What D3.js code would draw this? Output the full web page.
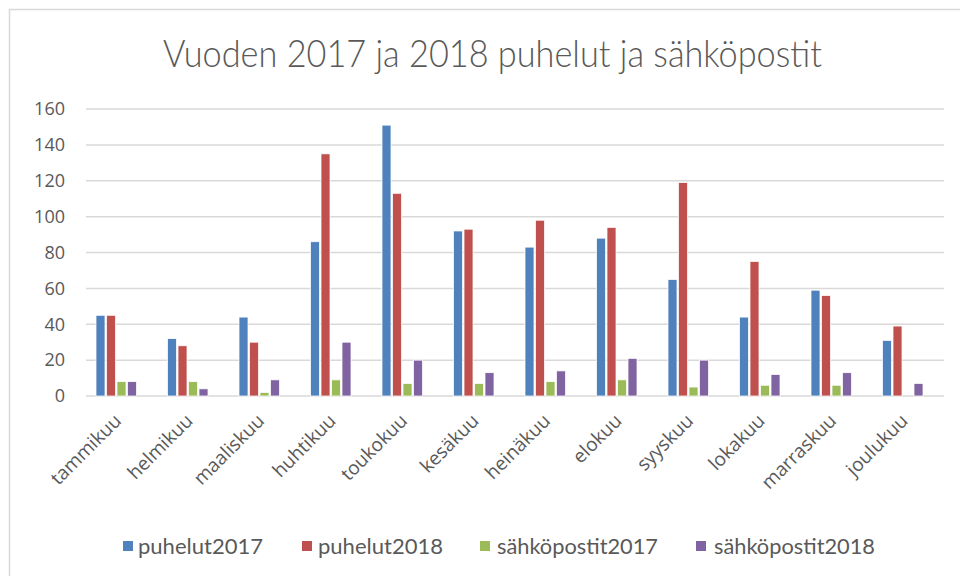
<!DOCTYPE html>
<html><head><meta charset="utf-8">
<script src="https://cdn.jsdelivr.net/npm/d3@7"></script>
<style>body{margin:0;background:#fff}svg{display:block}</style>
</head><body>
<svg id="c" width="960" height="576"></svg>
<script>
const months = ["tammikuu","helmikuu","maaliskuu","huhtikuu","toukokuu","kesäkuu","heinäkuu","elokuu","syyskuu","lokakuu","marraskuu","joulukuu"];
const seriesNames = ["puhelut2017","puhelut2018","sähköpostit2017","sähköpostit2018"];
const puhelut2017 = [45,32,44,86,151,92,83,88,65,44,59,31];
const puhelut2018 = [45,28,30,135,113,93,98,94,119,75,56,39];
const sahkopostit2017 = [8,8,2,9,7,7,8,9,5,6,6,0];
const sahkopostit2018 = [8,4,9,30,20,13,14,21,20,12,13,7];
const yTicks = [0,20,40,60,80,100,120,140,160];
const colors = ["#4f81bd","#c0504d","#9bbb59","#8064a2"];
const title = "Vuoden 2017 ja 2018 puhelut ja sähköpostit";

const seriesVals = [puhelut2017,puhelut2018,sahkopostit2017,sahkopostit2018];
const svg = d3.select("#c");
const thin = "Lato,'Open Sans',sans-serif";
const lab = "'Open Sans',sans-serif";

svg.append("rect").attr("x",9.5).attr("y",9.5).attr("width",980).attr("height",620)
  .attr("fill","#fff").attr("stroke","#d9d9d9").attr("stroke-width",1.5);

const gridL = 86, gridR = 944;
const x = d3.scaleBand().domain(months).range([80.75, 938.75]).padding(0);
const xs = d3.scaleBand().domain(seriesNames).range([0, 42]).padding(0);
const y = d3.scaleLinear().domain([0,160]).range([396,109]);

// gridlines
svg.append("g").selectAll("line").data(yTicks).join("line")
  .attr("x1",gridL).attr("x2",gridR)
  .attr("y1",d=>y(d)).attr("y2",d=>y(d))
  .attr("stroke","#d9d9d9").attr("stroke-width",1.5);

// y axis labels
const yAxis = d3.axisLeft(y).tickValues(yTicks).tickSize(0).tickPadding(0);
const ya = svg.append("g").attr("transform","translate(65,0)").call(yAxis);
ya.select(".domain").remove();
ya.selectAll("text").attr("font-family",lab).attr("font-size",18).attr("fill","#595959");

// bars
const groups = svg.append("g").selectAll("g").data(seriesNames).join("g")
  .attr("fill",(d,i)=>colors[i]);
groups.selectAll("rect").data((s,i)=>seriesVals[i].map((v,j)=>({s,m:months[j],v})))
  .join("rect")
  .attr("x",d=>x(d.m) + (x.bandwidth()-42)/2 + xs(d.s) + 0.5)
  .attr("width",xs.bandwidth()-1.5)
  .attr("y",d=>y(d.v))
  .attr("height",d=>y(0)-y(d.v))
  .attr("stroke","#fff").attr("stroke-width",0.75);

// x labels
const xa = svg.append("g");
xa.selectAll("text").data(months).join("text")
  .attr("transform",d=>`translate(${x(d)+x.bandwidth()/2+6},${422}) rotate(-45)`)
  .attr("text-anchor","end")
  .attr("font-family",lab).attr("font-size",19).attr("fill","#595959")
  .text(d=>d);

// title
svg.append("text").attr("x",163).attr("y",67)
  .attr("font-family",thin).attr("font-weight",300).attr("font-size",38).attr("fill","#595959")
  .attr("textLength",659).attr("lengthAdjust","spacingAndGlyphs").text(title);

// legend
const legX = [123,302,480,696];
const legT = [138,318,497,714];
const legW = [125,125,161,161];
const leg = svg.append("g").selectAll("g").data(seriesNames).join("g");
leg.append("rect").attr("x",(d,i)=>legX[i]).attr("y",541).attr("width",10).attr("height",10).attr("fill",(d,i)=>colors[i]);
leg.append("text").attr("x",(d,i)=>legT[i]).attr("y",554).attr("font-family",thin).attr("font-size",21)
  .attr("fill","#595959").attr("textLength",(d,i)=>legW[i]).attr("lengthAdjust","spacingAndGlyphs").text(d=>d);
</script>
</body></html>
